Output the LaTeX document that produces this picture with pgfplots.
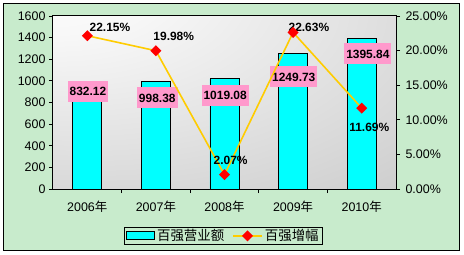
\documentclass[border=0pt]{standalone}
\usepackage{fontspec}
\setmainfont{Liberation Sans}
\newfontfamily\cjk{Noto Sans CJK SC}
\usepackage{pgfplots}
\pgfplotsset{compat=1.18}
\definecolor{bggreen}{RGB}{200,235,204}
\definecolor{barcyan}{RGB}{0,255,255}
\definecolor{linegold}{RGB}{255,204,0}
\definecolor{labpink}{RGB}{255,153,204}
\pgfdeclareradialshading{plotshade}{\pgfpoint{-28bp}{38bp}}{color(0bp)=(white); color(15bp)=(white!97!black); color(110bp)=(black!36); color(140bp)=(black!36)}
\pgfplotsset{linelegend/.style={legend image code/.code={\draw[##1, mark indices={2}] plot coordinates {(0bp,0bp) (14.5bp,0bp) (29bp,0bp)};}}}
\begin{document}
\begin{tikzpicture}[font=\fontsize{12.5}{14}\selectfont]
\useasboundingbox (-53bp,-66bp) rectangle (411bp,189bp);
\fill[white] (-53bp,-66bp) rectangle (411bp,189bp);
\filldraw[fill=bggreen, draw=black, line width=1bp] (-49bp,-61bp) rectangle (406bp,185bp);
\begin{axis}[
  at={(0,0)}, anchor=south west,
  width=343bp, height=173bp, scale only axis,
  xmin=0, xmax=5, ymin=0, ymax=1600,
  ytick={0,200,...,1600},
  ytick pos=left,
  xtick={1,2,3,4}, xticklabels={}, xtick pos=bottom,
  x tick style={black, line width=0.8bp}, y tick style={black, line width=0.8bp},
  xtick align=inside, ytick align=outside,
  major tick length=4bp,
  axis line style={black, line width=1bp},
  axis background/.style={shading=plotshade},
  /pgf/number format/assume math mode=true,
  /pgf/number format/1000 sep={},
  yticklabel style={font=\fontsize{12.5}{14}\selectfont},
  ybar, bar width=29bp, bar shift=0pt,
  clip=false,
]
\addplot[fill=barcyan, draw=black, line width=0.8bp] coordinates {(0.5,832.12) (1.5,998.38) (2.5,1019.08) (3.5,1249.73) (4.5,1395.84)};
\begin{scope}[every node/.style={fill=labpink, font=\bfseries\fontsize{12}{14}\selectfont, inner xsep=2bp, minimum height=21bp}]
\node at (axis cs:0.51,906) {832.12};
\node at (axis cs:1.52,842) {998.38};
\node at (axis cs:2.51,869) {1019.08};
\node at (axis cs:3.51,1036) {1249.73};
\node at (axis cs:4.59,1249) {1395.84};
\end{scope}
\end{axis}
\begin{axis}[
  at={(0,0)}, anchor=south west,
  width=343bp, height=173bp, scale only axis,
  xmin=0, xmax=5, ymin=0, ymax=25,
  axis y line*=right,
  axis x line*=bottom,
  x axis line style={draw=none},
  xtick={0.5,1.5,2.5,3.5,4.5},
  xticklabels={2006{\cjk 年},2007{\cjk 年},2008{\cjk 年},2009{\cjk 年},2010{\cjk 年}},
  xticklabel style={yshift=-8bp},
  x tick style={draw=none},
  ytick={0,5,...,25},
  yticklabels={0.00\%,5.00\%,10.00\%,15.00\%,20.00\%,25.00\%},
  yticklabel style={font=\fontsize{12.5}{14}\selectfont, xshift=2bp},
  y tick style={black, line width=0.8bp},
  ytick align=outside, major tick length=4bp,
  y axis line style={black, line width=1bp},
  clip=false,
  legend style={at={(0.497,-0.22)}, anchor=north, legend columns=2, draw=black, line width=0.8bp, fill=none,
    font=\cjk\fontsize{13.5}{15}\selectfont, inner ysep=0bp, inner xsep=2bp,
    /tikz/every even column/.append style={column sep=6bp}},
]
\addlegendimage{legend image code/.code={\draw[fill=barcyan, draw=black, line width=0.8bp] (0bp,-4bp) rectangle (28bp,4bp);}}
\addlegendentry{百强营业额}
\addplot[linegold, line width=1.6bp, mark=square*, mark size=3.1bp,
  mark options={fill=red, draw=red, rotate=45}, linelegend
  ] coordinates {(0.5,22.15) (1.5,19.98) (2.5,2.07) (3.5,22.63) (4.5,11.69)};
\addlegendentry{百强增幅}
\begin{scope}[every node/.style={font=\bfseries\fontsize{12}{14}\selectfont, inner sep=0pt}]
\node at (axis cs:0.83,23.4) {22.15\%};
\node at (axis cs:1.76,22.1) {19.98\%};
\node at (axis cs:2.59,4.2) {2.07\%};
\node at (axis cs:3.73,23.3) {22.63\%};
\node at (axis cs:4.61,8.96) {11.69\%};
\end{scope}
\end{axis}
\end{tikzpicture}
\end{document}
